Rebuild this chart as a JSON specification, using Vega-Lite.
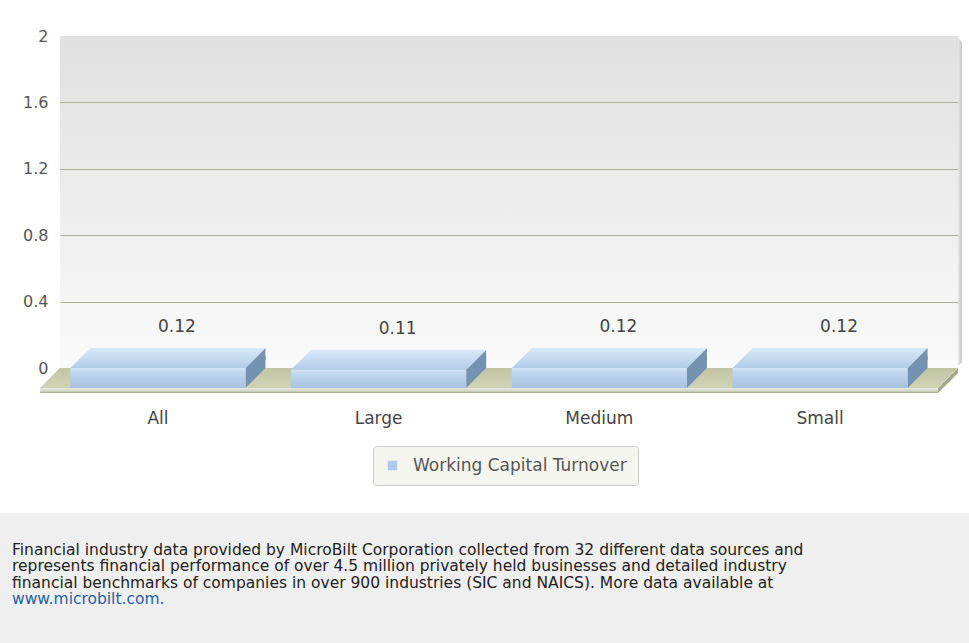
{
  "$schema": "https://vega.github.io/schema/vega-lite/v6.json",
  "width": 969,
  "height": 513,
  "autosize": {"type": "none"},
  "padding": {"left": 0, "top": 0, "right": 0, "bottom": 130},
  "background": "#efefef",
  "config": {"view": {"stroke": null, "fill": "#ffffff"}, "font": "DejaVu Sans"},
  "data": {"values": [
    {"size": "All", "value": 0.12},
    {"size": "Large", "value": 0.11},
    {"size": "Medium", "value": 0.12},
    {"size": "Small", "value": 0.12}
  ]},
  "title": {
    "text": [
      "Financial industry data provided by MicroBilt Corporation collected from 32 different data sources and",
      "represents financial performance of over 4.5 million privately held businesses and detailed industry",
      "financial benchmarks of companies in over 900 industries (SIC and NAICS). More data available at"
    ],
    "subtitle": "www.microbilt.com.",
    "orient": "bottom",
    "anchor": "start",
    "frame": "group",
    "offset": 30,
    "dx": 12,
    "baseline": "top",
    "font": "DejaVu Sans",
    "fontSize": 15.5,
    "fontWeight": "normal",
    "color": "#222222",
    "lineHeight": 16.4,
    "subtitleFont": "DejaVu Sans",
    "subtitleFontSize": 15.5,
    "subtitleColor": "#2b5ea7",
    "subtitleLineHeight": 16.4,
    "subtitlePadding": 1
  },
  "encoding": {
    "x": {
      "field": "size", "type": "nominal", "sort": null,
      "scale": {"type": "band", "range": [60, 958], "paddingInner": 0.207, "paddingOuter": 0.138},
      "axis": {"title": null, "orient": "bottom", "offset": -113, "domain": false, "ticks": false,
               "labelPadding": 10, "labelOffset": -20, "labelAngle": 0,
               "labelFont": "DejaVu Sans", "labelFontSize": 17, "labelColor": "#444444"}
    },
    "y": {"field": "value", "type": "quantitative", "scale": {"domain": [0, 2], "range": [368, 36], "nice": false},
          "axis": {"title": null, "values": [0, 0.4, 0.8, 1.2, 1.6, 2], "format": "~g", "offset": -60, "domain": false, "ticks": false,
                   "labelPadding": 12, "labelFont": "DejaVu Sans", "labelFontSize": 16, "labelColor": "#555555",
                   "grid": true, "gridColor": "#acae98", "gridWidth": 1,
                   "gridOpacity": {"condition": {"test": "datum.value === 0 || datum.value === 2", "value": 0}, "value": 1},
                   "zindex": 1}}
  },
  "layer": [
    {
      "mark": {"type": "point", "shape": "M 118 2 L 122 6 L 122 326 L 118 330 Z", "size": 4, "filled": true, "opacity": 1, "strokeWidth": 0,
               "fill": {"gradient": "linear", "x1": 0, "y1": 0, "x2": 1, "y2": 0, "stops": [{"offset": 0, "color": "#e6e6e6"}, {"offset": 1, "color": "#c6c6c6"}]}},
      "encoding": {"y": {"datum": 2, "type": "quantitative"}}
    },
    {
      "mark": {"type": "bar", "width": 236, "stroke": null,
               "fill": {"gradient": "linear", "x1": 0, "y1": 0, "x2": 0, "y2": 1, "stops": [{"offset": 0, "color": "#e0e0e0"}, {"offset": 1, "color": "#fafafa"}]}},
      "encoding": {"y": {"datum": 2, "type": "quantitative"}, "y2": {"datum": 0}}
    },
    {
      "mark": {"type": "point", "shape": "M 118 0 L 118 5 L 98 25 L 98 20 Z", "size": 4, "filled": true, "opacity": 1, "strokeWidth": 0, "fill": "#a3a78c"},
      "encoding": {"y": {"datum": 0, "type": "quantitative"}}
    },
    {
      "mark": {"type": "point", "shape": "M -118 0 L 118 0 L 98 20 L -138 20 Z", "size": 4, "filled": true, "opacity": 1, "strokeWidth": 0,
               "fill": {"gradient": "linear", "x1": 0, "y1": 0, "x2": 0, "y2": 1, "stops": [{"offset": 0, "color": "#c2c5a3"}, {"offset": 1, "color": "#d0d3b7"}]}},
      "encoding": {"y": {"datum": 0, "type": "quantitative"}}
    },
    {
      "mark": {"type": "point", "shape": "M -138 20 L 98 20 L 98 25 L -138 25 Z", "size": 4, "filled": true, "opacity": 1, "strokeWidth": 0,
               "fill": {"gradient": "linear", "x1": 0, "y1": 0, "x2": 0, "y2": 1, "stops": [{"offset": 0, "color": "#e6e9dd"}, {"offset": 0.6, "color": "#d3d7c6"}, {"offset": 1, "color": "#a2a78e"}]}},
      "encoding": {"y": {"datum": 0, "type": "quantitative"}}
    },
    {
      "mark": {"type": "point", "shape": "M 87.5 0 L 87.5 12 L 67.5 32 L 67.5 20 Z", "size": 4, "filled": true, "opacity": 1, "strokeWidth": 0, "fill": "#7592b0"}
    },
    {
      "mark": {"type": "point", "shape": "M 87.5 -12 L 87.5 0 L 67.5 20 L 67.5 8 Z", "size": 4, "filled": true, "opacity": 1, "strokeWidth": 0, "fill": "#7592b0"},
      "encoding": {"y": {"datum": 0, "type": "quantitative"}}
    },
    {
      "mark": {"type": "point", "shape": "M -87.5 0 L 87.5 0 L 67.5 20 L -107.5 20 Z", "size": 4, "filled": true, "opacity": 1, "strokeWidth": 0,
               "fill": {"gradient": "linear", "x1": 0, "y1": 0, "x2": 0, "y2": 1, "stops": [{"offset": 0, "color": "#d9e9f8"}, {"offset": 1, "color": "#b1cce9"}]}}
    },
    {
      "mark": {"type": "bar", "xOffset": -20, "yOffset": 20, "y2Offset": 20, "stroke": null},
      "encoding": {
        "fill": {"datum": "Working Capital Turnover", "type": "nominal", "scale": {"range": ["#a9cbee"]},
                 "legend": {"title": null, "orient": "none", "legendX": 373, "legendY": 446, "direction": "horizontal",
                            "padding": 11, "fillColor": "#f4f5ef", "strokeColor": "#cdcdcd", "cornerRadius": 3,
                            "symbolType": "square", "symbolSize": 90, "symbolStrokeWidth": 0, "labelOffset": 12, "labelLimit": 400,
                            "labelFont": "DejaVu Sans", "labelFontSize": 17, "labelColor": "#555555"}}
      }
    },
    {
      "mark": {"type": "bar", "xOffset": -20, "yOffset": 20, "y2Offset": 20, "stroke": null,
               "fill": {"gradient": "linear", "x1": 0, "y1": 0, "x2": 0, "y2": 1, "stops": [{"offset": 0, "color": "#d2e4f6"}, {"offset": 0.25, "color": "#bfd6ee"}, {"offset": 1, "color": "#a6c2e0"}]}}
    },
    {
      "mark": {"type": "text", "dy": -21, "dx": -1, "font": "DejaVu Sans", "fontSize": 17, "fill": "#444444", "baseline": "middle"},
      "encoding": {"text": {"field": "value", "type": "quantitative", "format": ".2f"}}
    }
  ]
}
